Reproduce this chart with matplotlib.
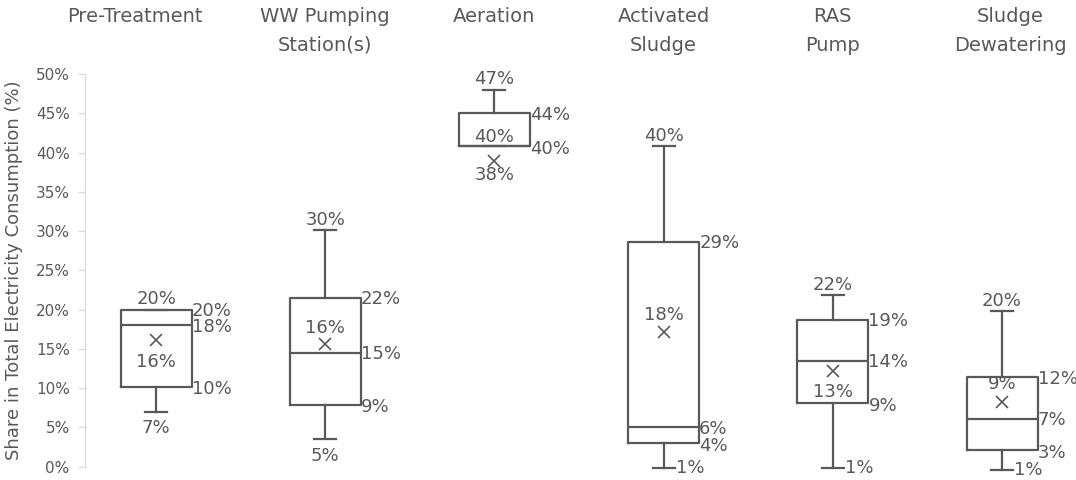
import numpy as np
import matplotlib.pyplot as plt
import matplotlib.transforms as mtransforms
from matplotlib.ticker import FuncFormatter

# box statistics (% share)
categories = ["Pre-Treatment", "WW Pumping\nStation(s)", "Aeration",
              "Activated\nSludge", "RAS\nPump", "Sludge\nDewatering"]
whislo = [7.0, 3.5, 40.8, -0.2, -0.2, -0.4]
q1 = [10.2, 7.9, 40.8, 3.0, 8.1, 2.1]
med = [18.0, 14.5, 40.8, 5.0, 13.5, 6.1]
q3 = [20.0, 21.5, 45.0, 28.6, 18.7, 11.4]
whishi = [20.0, 30.1, 48.0, 40.8, 21.8, 19.8]
mean = [16.1, 15.6, 38.9, 17.2, 12.2, 8.2]

# data labels as printed on the chart
max_lbl = ["20%", "30%", "47%", "40%", "22%", "20%"]
q3_lbl = ["20%", "22%", "44%", "29%", "19%", "12%"]
med_lbl = ["18%", "15%", "40%", "6%", "14%", "7%"]
q1_lbl = ["10%", "9%", "40%", "4%", "9%", "3%"]
min_lbl = ["7%", "5%", None, "1%", "1%", "1%"]
mean_lbl = ["16%", "16%", "38%", "18%", "13%", "9%"]

# label placement
mean_dy = [-16, 12, -10, 12, -15, 13]
min_side = ['below', 'below', None, 'right', 'right', 'right']
med_side = ['right', 'right', 'inside', 'right', 'right', 'right']
title_dx = [-0.125, 0, 0, 0, 0, 0.05]

grey = '#595959'
W, H = 1076, 480
box_w = 0.42
cap_w = 0.13

fig = plt.figure(figsize=(W / 100, H / 100), dpi=100)
ax = fig.add_axes([85 / W, 13.3 / H, 991 / W, 392.7 / H])

stats = []
for i in range(len(categories)):
    stats.append(dict(med=med[i], q1=q1[i], q3=q3[i], whislo=whislo[i],
                      whishi=whishi[i], mean=mean[i], fliers=[], label=''))
pos = np.arange(len(categories))
line = dict(color=grey, linewidth=1.6)
art = ax.bxp(stats, positions=pos, widths=box_w, capwidths=cap_w, showmeans=True,
             boxprops=line, medianprops=line, whiskerprops=line, capprops=line,
             meanprops=dict(marker='x', markeredgecolor=grey, markersize=9,
                            markeredgewidth=1.2, linestyle='none'))
for k in art:
    for a in art[k]:
        a.set_clip_on(False)

ax.set_xlim(-0.42, 5.437)
ax.set_ylim(0, 50)
ax.set_yticks(np.arange(0, 51, 5))
ax.yaxis.set_major_formatter(FuncFormatter(lambda v, p: f"{v:.0f}%"))
ax.tick_params(axis='y', colors='#d9d9d9', labelcolor=grey, labelsize=11,
               length=5, pad=6)
ax.set_xticks([])
for s in ['top', 'right', 'bottom']:
    ax.spines[s].set_visible(False)
ax.spines['left'].set_color('#d9d9d9')
ax.set_ylabel("Share in Total Electricity Consumption (%)", color=grey,
              fontsize=13, labelpad=9)

fs = 13


def put(x, y, txt, dx, dy, ha, va):
    ax.annotate(txt, (x, y), xytext=(dx, dy), textcoords='offset points',
                ha=ha, va=va, color=grey, fontsize=fs, annotation_clip=False)


for i, x in enumerate(pos):
    half = box_w / 2
    put(x, whishi[i], max_lbl[i], 0, 1, 'center', 'bottom')
    put(x + half, q3[i], q3_lbl[i], 0, -1, 'left', 'center')
    put(x + half, q1[i], q1_lbl[i], 0, -2, 'left', 'center')
    if med_side[i] == 'inside':
        put(x, med[i], med_lbl[i], 0, 7, 'center', 'center')
    else:
        put(x + half, med[i], med_lbl[i], 0, -1, 'left', 'center')
    put(x, mean[i], mean_lbl[i], 0, mean_dy[i], 'center', 'center')
    if min_side[i] == 'below':
        put(x, whislo[i], min_lbl[i], 0, -12, 'center', 'center')
    elif min_side[i] == 'right':
        put(x + cap_w / 2, whislo[i], min_lbl[i], 1, 0, 'left', 'center')

# column headings
trans = mtransforms.blended_transform_factory(ax.transData, fig.transFigure)
for i, c in enumerate(categories):
    ax.text(pos[i] + title_dx[i], 1 - 7 / H, c, transform=trans, ha='center',
            va='top', color=grey, fontsize=14, linespacing=1.65)

fig.savefig('out.png', dpi=100)
